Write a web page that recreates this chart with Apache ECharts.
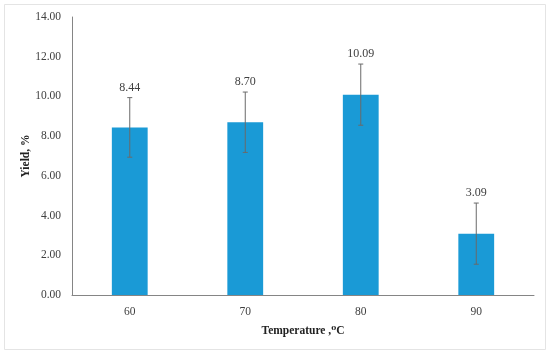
<!DOCTYPE html>
<html><head><meta charset="utf-8">
<script src="https://cdn.jsdelivr.net/npm/echarts@6/dist/echarts.min.js"></script>
<style>html,body{margin:0;padding:0;background:#fff}#c{width:550px;height:354px}</style>
</head><body><div id="c"></div>
<script>
const categories = ['60', '70', '80', '90'];
const yieldValues = [8.44, 8.70, 10.09, 3.09];
const errorValues = [1.50, 1.52, 1.54, 1.54];
const valueLabels = ['8.44', '8.70', '10.09', '3.09'];
const yTicks = [0, 2, 4, 6, 8, 10, 12, 14];

const FONT = '"Liberation Serif","DejaVu Serif",serif';
const errData = categories.map((c, i) => [i, yieldValues[i] - errorValues[i], yieldValues[i] + errorValues[i], i]);

const chart = echarts.init(document.getElementById('c'), null, {renderer: 'canvas'});
chart.setOption({
  animation: false,
  backgroundColor: '#fff',
  graphic: [{type: 'rect', shape: {x: 4.5, y: 4.5, width: 541, height: 345}, style: {fill: 'none', stroke: '#e4e4e4', lineWidth: 1}, z: -1}],
  grid: {left: 72, right: 16, top: 17, bottom: 59},
  xAxis: {
    type: 'category', data: categories,
    axisLine: {lineStyle: {color: '#858585', width: 1}},
    axisTick: {show: false},
    axisLabel: {color: '#404040', fontFamily: FONT, fontSize: 11.5, margin: 11},
    name: 'Temperature ,⁰C', nameLocation: 'middle', nameGap: 30, nameMoveOverlap: false,
    nameTextStyle: {color: '#222', fontFamily: FONT, fontSize: 11.5, fontWeight: 'bold'}
  },
  yAxis: {
    type: 'value', min: yTicks[0], max: yTicks[yTicks.length - 1], interval: 2,
    axisLine: {show: true, lineStyle: {color: '#858585', width: 1}},
    axisTick: {show: false},
    splitLine: {show: false},
    axisLabel: {color: '#404040', fontFamily: FONT, fontSize: 11.5, margin: 11, formatter: v => v.toFixed(2)},
    name: 'Yield, %', nameLocation: 'middle', nameGap: 40, nameRotate: 90, nameMoveOverlap: false,
    nameTextStyle: {color: '#222', fontFamily: FONT, fontSize: 11.5, fontWeight: 'bold'}
  },
  series: [
    {type: 'bar', data: yieldValues, barWidth: '31%', itemStyle: {color: '#1A9AD6'}},
    {
      type: 'custom', data: errData, z: 10,
      renderItem: function (params, api) {
        const x = api.value(0);
        const lo = api.coord([x, api.value(1)]);
        const hi = api.coord([x, api.value(2)]);
        const cap = 2.5;
        const st = {stroke: '#6a6a6a', lineWidth: 1};
        const idx = api.value(3);
        return {type: 'group', children: [
          {type: 'line', shape: {x1: lo[0], y1: lo[1], x2: hi[0], y2: hi[1]}, style: st},
          {type: 'line', shape: {x1: lo[0] - cap, y1: lo[1], x2: lo[0] + cap, y2: lo[1]}, style: st},
          {type: 'line', shape: {x1: hi[0] - cap, y1: hi[1], x2: hi[0] + cap, y2: hi[1]}, style: st},
          {type: 'text', x: hi[0], y: hi[1] - 4, style: {text: valueLabels[idx], fill: '#404040', font: '12px ' + FONT, textAlign: 'center', textVerticalAlign: 'bottom'}}
        ]};
      }
    }
  ]
});
</script></body></html>
